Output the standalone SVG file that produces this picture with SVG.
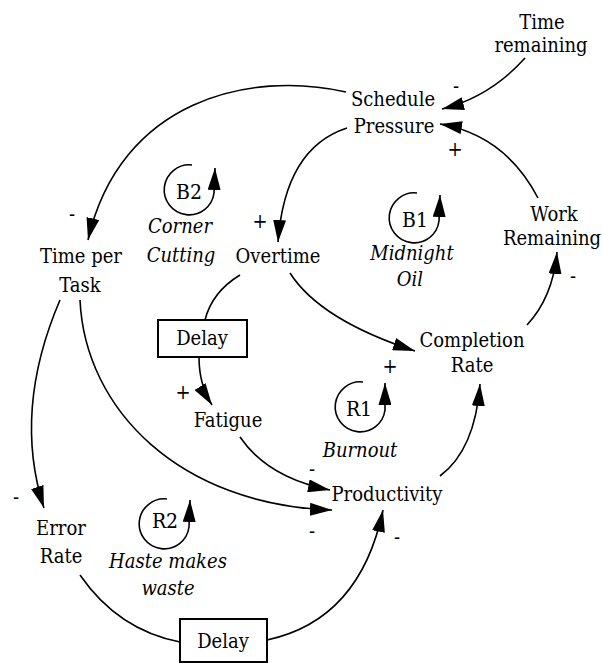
<svg xmlns="http://www.w3.org/2000/svg" width="602" height="663" viewBox="0 0 602 663">
<defs>
<style>
text{font-family:"DejaVu Serif Condensed","DejaVu Serif",serif;font-stretch:condensed;font-size:20px;fill:#000;text-anchor:middle}
.it{font-style:italic;font-size:20px}
.lp{font-size:21px}
.sg{font-size:20px}
.c{fill:none;stroke:#000;stroke-width:1.6}
.box{fill:#fff;stroke:#000;stroke-width:2}
</style>
<marker id="ah" viewBox="0 0 22 13" refX="22" refY="6.5" markerWidth="22" markerHeight="13" markerUnits="userSpaceOnUse" orient="auto">
<path d="M0,0 L22,6.5 L0,13 z" fill="#000"/>
</marker>
</defs>
<rect width="602" height="663" fill="#fff"/>

<g id="connectors">
<path class="c" d="M525,58 Q490,97 442,109" marker-end="url(#ah)"/>
<path class="c" d="M538,198 Q505,135 440,124" marker-end="url(#ah)"/>
<path class="c" d="M346,92 C250,70 120,100 88,240" marker-end="url(#ah)"/>
<path class="c" d="M347,128 Q285,148 278,242" marker-end="url(#ah)"/>
<path class="c" d="M290,273 Q320,320 415,351" marker-end="url(#ah)"/>
<path class="c" d="M240,275 Q212,292 205,320"/>
<path class="c" d="M199,357 Q199,385 212,405" marker-end="url(#ah)"/>
<path class="c" d="M240,437 Q268,478 330,490" marker-end="url(#ah)"/>
<path class="c" d="M80,300 C85,410 180,505 332,510" marker-end="url(#ah)"/>
<path class="c" d="M60,300 C30,370 22,440 44,508" marker-end="url(#ah)"/>
<path class="c" d="M440,476 Q475,450 480,384" marker-end="url(#ah)"/>
<path class="c" d="M527,325 Q553,297 557,252" marker-end="url(#ah)"/>
<path class="c" d="M80,575 Q118,630 180,642"/>
<path class="c" d="M267,640 Q360,620 383,510" marker-end="url(#ah)"/>
</g>

<g id="signs">
<text class="sg" x="456" y="93">-</text>
<text class="sg" x="455" y="156">+</text>
<text class="sg" x="72" y="221">-</text>
<text class="sg" x="260" y="228">+</text>
<text class="sg" x="573" y="283">-</text>
<text class="sg" x="390" y="373">+</text>
<text class="sg" x="183" y="399">+</text>
<text class="sg" x="312" y="476">-</text>
<text class="sg" x="312" y="538">-</text>
<text class="sg" x="397" y="544">-</text>
<text class="sg" x="16" y="504">-</text>
</g>

<g id="time-remaining"><text x="542" y="29">Time</text><text x="541" y="52">remaining</text></g>
<g id="schedule-pressure"><text x="393" y="106">Schedule</text><text x="394" y="133">Pressure</text></g>
<g id="time-per-task"><text x="81" y="263">Time per</text><text x="80" y="292">Task</text></g>
<g id="overtime"><text x="278" y="263">Overtime</text></g>
<g id="work-remaining"><text x="554" y="221">Work</text><text x="552" y="245">Remaining</text></g>
<g id="completion-rate"><text x="472" y="347">Completion</text><text x="472" y="372">Rate</text></g>
<g id="delay1"><rect class="box" x="158" y="320" width="89" height="37"/><text x="202" y="345">Delay</text></g>
<g id="fatigue"><text x="228" y="427">Fatigue</text></g>
<g id="productivity"><text x="387" y="501">Productivity</text></g>
<g id="error-rate"><text x="61" y="535">Error</text><text x="61" y="563">Rate</text></g>
<g id="delay2"><rect class="box" x="180" y="619" width="87" height="43"/><text x="223" y="648">Delay</text></g>

<g id="loop-b2">
<path class="c" d="M192,165 A25,25 0 1 0 214,193 L215,168" marker-end="url(#ah)"/>
<text class="lp" x="189" y="199">B2</text>
<text class="it" x="180" y="233">Corner</text><text class="it" x="181" y="262">Cutting</text>
</g>
<g id="loop-b1">
<path class="c" d="M417,193 A25,25 0 1 0 439,221 L440,195" marker-end="url(#ah)"/>
<text class="lp" x="415" y="227">B1</text>
<text class="it" x="412" y="260">Midnight</text><text class="it" x="410" y="286">Oil</text>
</g>
<g id="loop-r1">
<path class="c" d="M363,382 A25,25 0 1 0 385,410 L385,383" marker-end="url(#ah)"/>
<text class="lp" x="359" y="416">R1</text>
<text class="it" x="360" y="457">Burnout</text>
</g>
<g id="loop-r2">
<path class="c" d="M167,499 A25,25 0 1 0 189,527 L190,500" marker-end="url(#ah)"/>
<text class="lp" x="165" y="528">R2</text>
<text class="it" x="168" y="568">Haste makes</text><text class="it" x="168" y="595">waste</text>
</g>
</svg>
